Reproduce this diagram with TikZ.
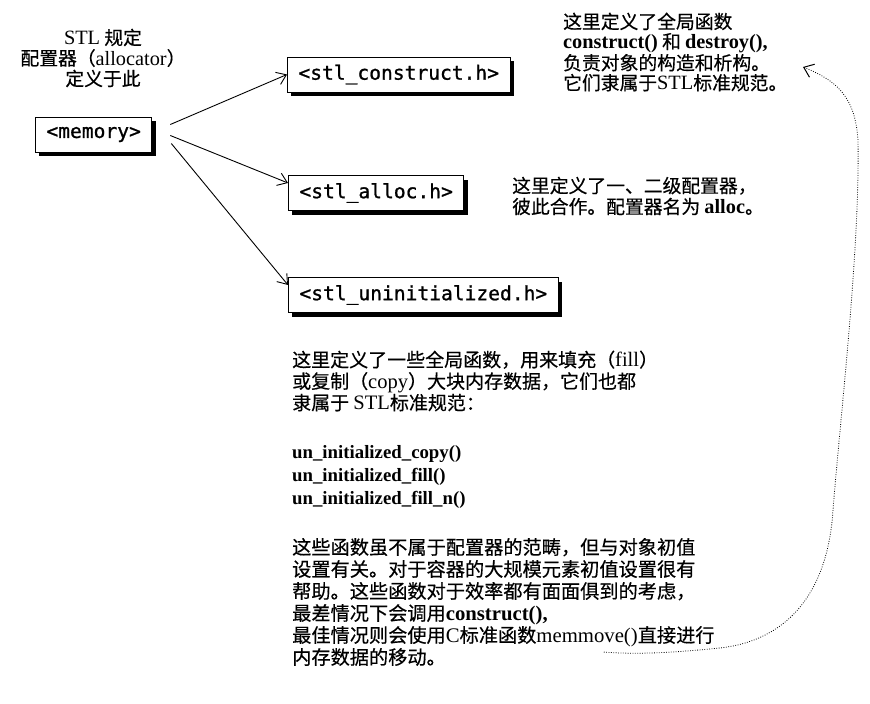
\documentclass[tikz,border=0pt]{standalone}
\usepackage{fontspec}
\setmainfont{Noto Sans CJK SC}[FakeBold=0.4]
\newfontfamily\latfont{Liberation Serif}[Scale=1.08]
\newfontfamily\monofont{DejaVu Sans Mono}[FakeBold=1]
\newcommand{\lt}[1]{{\latfont #1}}
\newcommand{\lb}[1]{{\latfont\bfseries #1}}
\usetikzlibrary{arrows.meta,shadows,calc}
\begin{document}
\begin{tikzpicture}[x=1pt,y=-1pt,
  box/.style={draw, line width=0.9pt, fill=white,
    font=\monofont\fontsize{19.6}{22}\selectfont,
    inner xsep=11pt, inner ysep=0pt, minimum height=35pt,
    drop shadow={shadow xshift=4pt, shadow yshift=-4pt, fill=black, opacity=1}},
  txt/.style={align=left, inner sep=0pt, anchor=west},
  arr/.style={line width=0.9pt, -{Straight Barb[length=9pt,width=13pt]}},
  note/.style={line width=0.8pt, dash pattern=on 0.8pt off 1.6pt,
    {Straight Barb[length=9pt,width=14pt,line width=1pt]}-}
  ]
\useasboundingbox (0,0) rectangle (870,704);
\fill[white] (0,0) rectangle (870,704);

\node[box, anchor=west] (memory) at (35,134.5) {<memory>};
\node[box, anchor=west] (construct) at (287,74.5) {<stl\_construct.h>};
\node[box, anchor=west] (alloc) at (288,193) {<stl\_alloc.h>};
\node[box, anchor=west] (uninit) at (288,295) {<stl\_uninitialized.h>};

\node[align=center, inner sep=0pt, font=\fontsize{18.8}{20.5}\selectfont] (lbl) at (103,58)
  {\lt{STL} 规定\\配置器（\lt{allocator}）\\定义于此};

\node[txt, font=\fontsize{18.8}{20}\selectfont] (t1) at (563,52)
  {这里定义了全局函数\\\lb{construct()} 和 \lb{destroy(),}\\负责对象的构造和析构。\\它们隶属于\lt{STL}标准规范。};

\node[txt, font=\fontsize{18.8}{21}\selectfont] (t2) at (512,196)
  {这里定义了一、二级配置器，\\彼此合作。配置器名为 \lb{alloc}。};

\node[txt, font=\fontsize{19}{21.5}\selectfont] (p1) at (292,381)
  {这里定义了一些全局函数，用来填充（\lt{fill}）\\或复制（\lt{copy}）大块内存数据，它们也都\\隶属于 \lt{STL}标准规范：};

\node[txt, font=\fontsize{17.4}{23}\selectfont] (p2) at (292,477)
  {\lb{un\_initialized\_copy()}\\\lb{un\_initialized\_fill()}\\\lb{un\_initialized\_fill\_n()}};

\node[txt, font=\fontsize{19.2}{22}\selectfont] (p3) at (292,602)
  {这些函数虽不属于配置器的范畴，但与对象初值\\设置有关。对于容器的大规模元素初值设置很有\\帮助。这些函数对于效率都有面面俱到的考虑，\\最差情况下会调用\lb{construct(),}\\最佳情况则会使用\lt{C}标准函数\lt{memmove()}直接进行\\内存数据的移动。};

\draw[arr] ($(memory.east)+(18,-10)$) -- (construct.west);
\draw[arr] ($(memory.east)+(18,1)$) -- ([yshift=10pt]alloc.west);
\draw[arr] ($(memory.east)+(19,9)$) -- ([yshift=10pt]uninit.west);

\coordinate (tip) at (803,67);
\coordinate (tail) at (603,652);
\draw[note] (tip) .. controls (835,80) and (855,95) .. (858,140)
  .. controls (860,250) and (840,420) .. (833,510)
  .. controls (828,590) and (790,640) .. (720,648)
  .. controls (680,652) and (640,655) .. (tail);
\end{tikzpicture}
\end{document}
